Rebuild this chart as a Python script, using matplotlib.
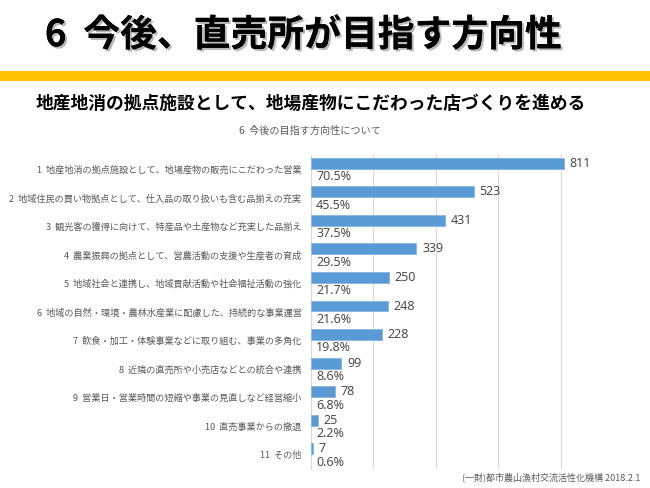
import matplotlib
matplotlib.use('Agg')
import matplotlib.pyplot as plt
import matplotlib.patheffects as pe
from matplotlib.patches import Rectangle

plt.rcParams['font.family'] = ['Noto Sans CJK JP', 'DejaVu Sans']

# data
categories = [
    '1  地産地消の拠点施設として、地場産物の販売にこだわった営業',
    '2  地域住民の買い物拠点として、仕入品の取り扱いも含む品揃えの充実',
    '3  観光客の獲得に向けて、特産品や土産物など充実した品揃え',
    '4  農業振興の拠点として、営農活動の支援や生産者の育成',
    '5  地域社会と連携し、地域貢献活動や社会福祉活動の強化',
    '6  地域の自然・環境・農林水産業に配慮した、持続的な事業運営',
    '7  飲食・加工・体験事業などに取り組む、事業の多角化',
    '8  近隣の直売所や小売店などとの統合や連携',
    '9  営業日・営業時間の短縮や事業の見直しなど経営縮小',
    '10  直売事業からの撤退',
    '11  その他',
]
counts = [811, 523, 431, 339, 250, 248, 228, 99, 78, 25, 7]
percents = ['70.5%', '45.5%', '37.5%', '29.5%', '21.7%', '21.6%',
            '19.8%', '8.6%', '6.8%', '2.2%', '0.6%']

fig = plt.figure(figsize=(6.5, 4.88), dpi=100)
fig.patch.set_facecolor('white')

# header
fig.text(0.069, 0.927, '6  今後、直売所が目指す方向性', fontsize=26.5, fontweight='bold',
         color='black', va='center', ha='left',
         path_effects=[pe.withSimplePatchShadow(offset=(1.5, -1.5), shadow_rgbFace='#888888', alpha=0.6),
                       pe.Normal()])
fig.patches.append(Rectangle((0, 1 - 81 / 488), 1, 10 / 488, transform=fig.transFigure,
                             facecolor='#FFC000', edgecolor='none'))
fig.text(0.055, 0.787, '地産地消の拠点施設として、地場産物にこだわった店づくりを進める',
         fontsize=12.8, fontweight='bold', color='black', va='center', ha='left')
fig.text(0.476, 0.733, '6  今後の目指す方向性について', fontsize=7.3, color='#595959',
         va='center', ha='center')
fig.text(0.985, 0.021, '(一財)都市農山漁村交流活性化機構 2018.2.1', fontsize=6.5,
         color='#595959', va='center', ha='right')

ax = fig.add_axes([0.4777, 0.0389, 0.4808, 0.6435])
ypos = list(range(len(categories)))
bar_y = [y - 0.21 for y in ypos]
ax.barh(bar_y, counts, height=0.38, color='#5B9BD5', edgecolor='#8DB8E2', linewidth=0.7, zorder=3)

for y, c, p in zip(ypos, counts, percents):
    ax.annotate(str(c), xy=(c, y - 0.21), xytext=(4, 0), textcoords='offset points',
                ha='left', va='center', fontsize=9, color='#404040', family='Open Sans')
    ax.annotate(p, xy=(0, y + 0.26), xytext=(4, 0), textcoords='offset points',
                ha='left', va='center', fontsize=9, color='#404040', family='Open Sans')

ax.set_xlim(0, 1000)
ax.set_ylim(10.5, -0.5)
ax.set_xticks([200, 400, 600, 800, 1000])
ax.set_xticklabels([])
ax.tick_params(axis='x', length=0)
ax.grid(axis='x', color='#D9D9D9', linewidth=0.8, zorder=0)
ax.set_yticks(ypos)
ax.set_yticklabels(categories, fontsize=6.6, color='#595959')
ax.tick_params(axis='y', length=0, pad=6.5)
for s in ['top', 'right', 'bottom']:
    ax.spines[s].set_visible(False)
ax.spines['left'].set_color('#D9D9D9')
ax.spines['left'].set_linewidth(0.8)

fig.savefig('out.png', dpi=100, facecolor='white')
